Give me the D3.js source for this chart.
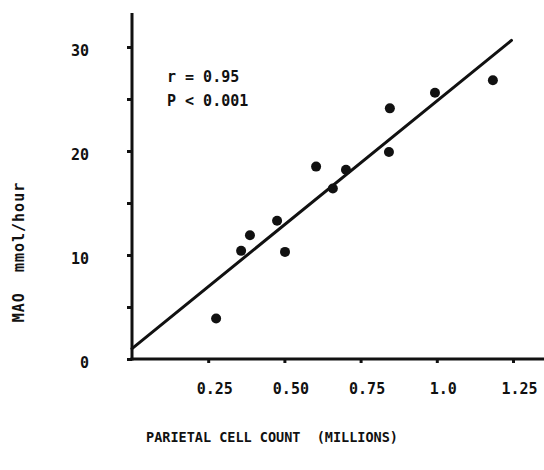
<!DOCTYPE html>
<html>
<head>
<meta charset="utf-8">
<script src="https://cdn.jsdelivr.net/npm/d3@7/dist/d3.min.js"></script>
<style>
  body { margin: 0; background: #fff; }
  svg text { font-family: "DejaVu Sans Mono", monospace; fill: #111; }
</style>
</head>
<body>
<script>
// parietal cell count (millions) vs MAO (mmol/hour)
var cellCount = [0.276, 0.358, 0.387, 0.476, 0.502, 0.604, 0.659, 0.702, 0.843, 0.846, 0.994, 1.184];
var mao       = [3.9, 10.4, 11.9, 13.3, 10.3, 18.5, 16.4, 18.2, 19.9, 24.1, 25.6, 26.8];

// regression line
var fitIntercept = 1.0;
var fitSlope = 23.8;
var fitRange = [0, 1.245];

var xTicks = [0.25, 0.5, 0.75, 1.0, 1.25];
var xTickLabels = ["0.25", "0.50", "0.75", "1.0", "1.25"];
var yTicks = [0, 5, 10, 15, 20, 25, 30];
var yTickLabels = ["0", "", "10", "", "20", "", "30"];

var width = 544, height = 470;

var x = d3.scaleLinear().domain([0, 1.25]).range([132, 513]);
var y = d3.scaleLinear().domain([0, 30]).range([359, 47]);

var svg = d3.select("body").append("svg")
    .attr("width", width)
    .attr("height", height);

// y axis
var yAxis = svg.append("g")
    .attr("transform", "translate(" + x(0) + ",0)")
    .call(d3.axisLeft(y)
        .tickValues(yTicks)
        .tickSize(5)
        .tickPadding(38)
        .tickFormat(function(d, i) { return yTickLabels[i]; }));
yAxis.select(".domain").remove();
yAxis.selectAll("line").attr("stroke", "#111").attr("stroke-width", 3);
yAxis.selectAll("text")
    .attr("font-size", 15).attr("font-weight", "bold")
    .attr("font-family", "DejaVu Sans Mono")
    .attr("dy", "0.55em");

// x axis
var xAxis = svg.append("g")
    .attr("transform", "translate(0," + y(0) + ")")
    .call(d3.axisBottom(x)
        .tickValues(xTicks)
        .tickSize(4)
        .tickPadding(20)
        .tickFormat(function(d, i) { return xTickLabels[i]; }));
xAxis.select(".domain").remove();
xAxis.selectAll("line").attr("stroke", "#111").attr("stroke-width", 3);
xAxis.selectAll("text")
    .attr("font-size", 15).attr("font-weight", "bold")
    .attr("font-family", "DejaVu Sans Mono")
    .attr("dx", 6);

// axis lines
svg.append("line")
    .attr("x1", x(0)).attr("x2", x(0))
    .attr("y1", 13).attr("y2", y(0) + 1.5)
    .attr("stroke", "#111").attr("stroke-width", 3);
svg.append("line")
    .attr("x1", x(0) - 1.5).attr("x2", width)
    .attr("y1", y(0)).attr("y2", y(0))
    .attr("stroke", "#111").attr("stroke-width", 3);

// fit line
svg.append("line")
    .attr("x1", x(fitRange[0])).attr("y1", y(fitIntercept + fitSlope * fitRange[0]))
    .attr("x2", x(fitRange[1])).attr("y2", y(fitIntercept + fitSlope * fitRange[1]))
    .attr("stroke", "#111").attr("stroke-width", 3)
    .attr("stroke-linecap", "round");

// points
svg.append("g").selectAll("circle")
    .data(cellCount)
    .enter().append("circle")
    .attr("cx", function(d) { return x(d); })
    .attr("cy", function(d, i) { return y(mao[i]); })
    .attr("r", 5)
    .attr("fill", "#111");

// stats
svg.append("text")
    .attr("x", 167).attr("y", 82)
    .attr("font-size", 15).attr("font-weight", "bold")
    .text("r = 0.95");
svg.append("text")
    .attr("x", 167).attr("y", 106)
    .attr("font-size", 15).attr("font-weight", "bold")
    .text("P < 0.001");

// axis titles
svg.append("text")
    .attr("transform", "translate(24,252) rotate(-90)")
    .attr("text-anchor", "middle")
    .attr("font-size", 15).attr("font-weight", "bold")
    .attr("letter-spacing", 1)
    .style("white-space", "pre")
    .text("MAO  mmol/hour");

svg.append("text")
    .attr("x", 272).attr("y", 442)
    .attr("text-anchor", "middle")
    .attr("font-size", 13.5).attr("font-weight", "bold")
    .style("white-space", "pre")
    .text("PARIETAL CELL COUNT  (MILLIONS)");
</script>
</body>
</html>
